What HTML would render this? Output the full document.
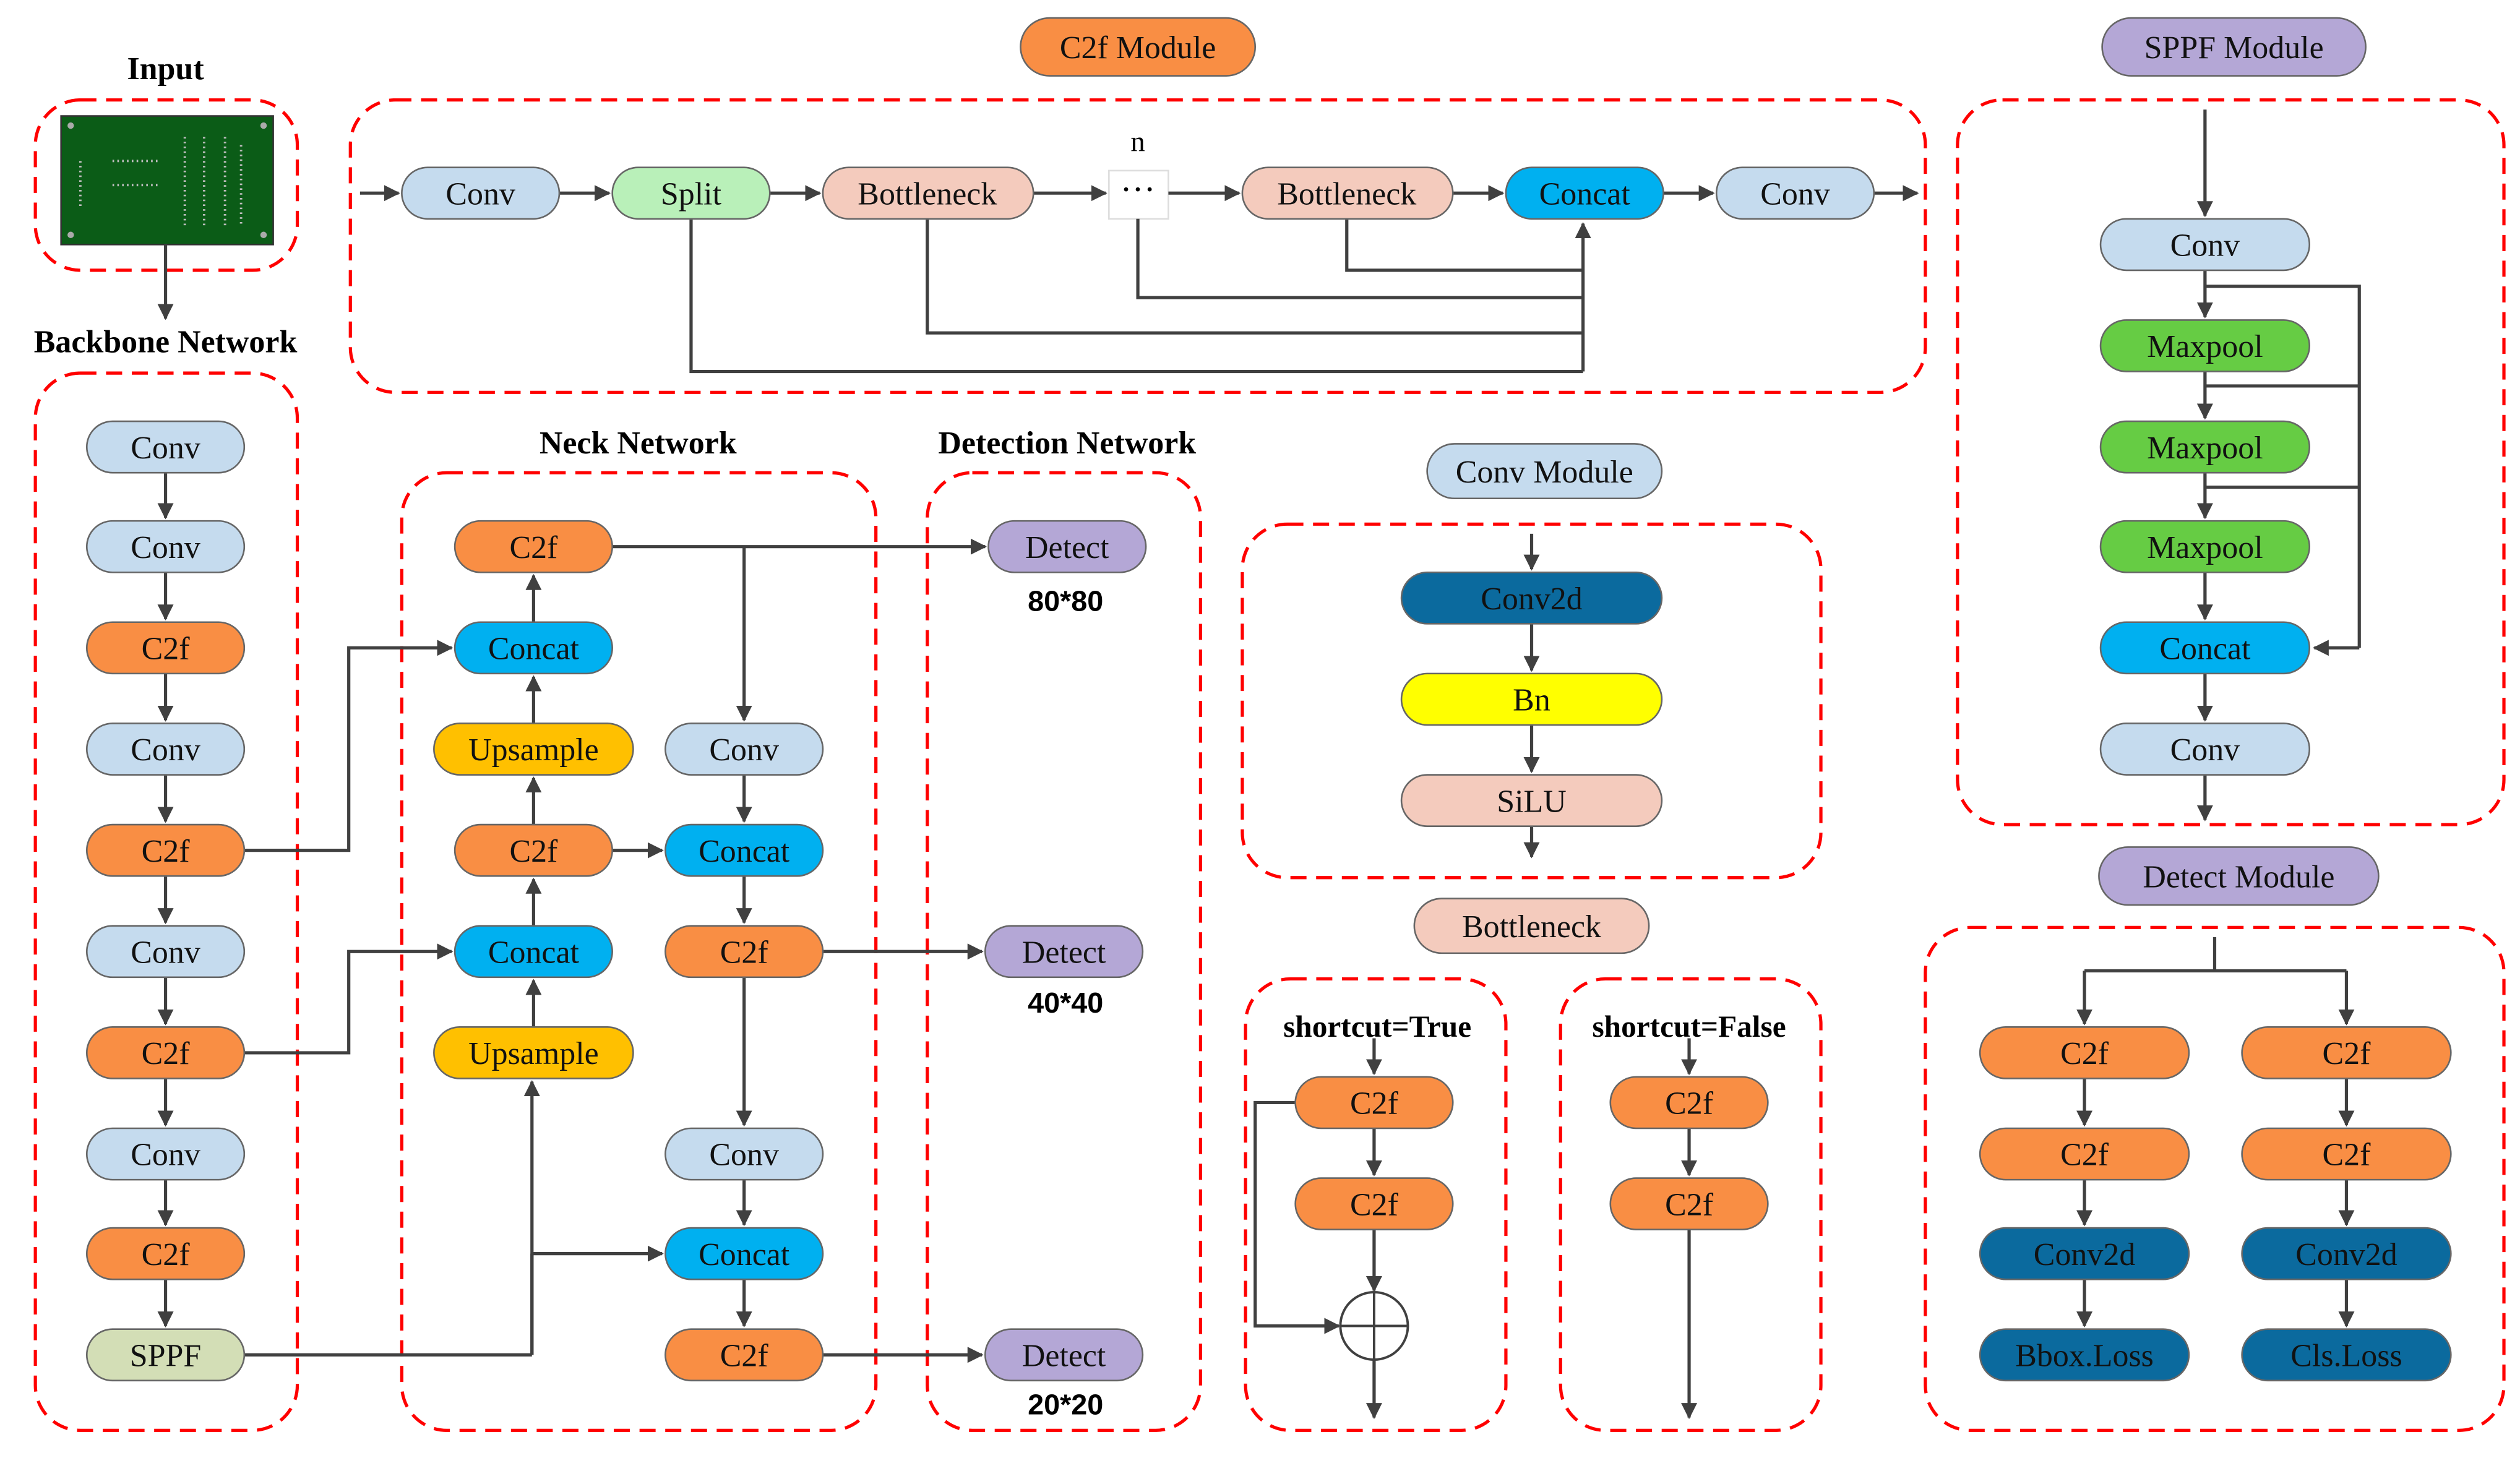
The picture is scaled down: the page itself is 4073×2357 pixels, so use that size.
<!DOCTYPE html>
<html><head><meta charset="utf-8"><style>html,body{margin:0;padding:0;background:#fff}svg{display:block}svg text{font-family:"Liberation Serif","Times New Roman","DejaVu Serif",serif}svg text.s{font-family:"Liberation Sans","DejaVu Sans",sans-serif}</style></head>
<body>
<svg width="4073" height="2357" viewBox="0 0 1568 907" xmlns="http://www.w3.org/2000/svg" font-family="'Liberation Serif', 'DejaVu Serif', serif">
<defs>
<marker id="a" viewBox="0 0 10 10" refX="9" refY="5" markerWidth="5" markerHeight="5" orient="auto"><path d="M0,0L10,5L0,10z" fill="#404040"/></marker>
</defs>
<rect width="1568" height="907" fill="#fff"/>
<g fill="none" stroke="#f00" stroke-width="2" stroke-dasharray="10,6">
<rect x="22" y="62" width="163" height="106" rx="28"/>
<rect x="22" y="232" width="163" height="658" rx="28"/>
<rect x="218" y="62" width="980" height="182" rx="28"/>
<rect x="1218" y="62" width="340" height="451" rx="28"/>
<rect x="250" y="294" width="295" height="596" rx="28"/>
<rect x="577" y="294" width="170" height="596" rx="28"/>
<rect x="773" y="326" width="360" height="220" rx="28"/>
<rect x="775" y="609" width="162" height="281" rx="28"/>
<rect x="971" y="609" width="162" height="281" rx="28"/>
<rect x="1198" y="577" width="360" height="313" rx="28"/>
</g>
<rect x="38" y="72" width="132" height="80" fill="#0b5c17" stroke="#333"/>
<g fill="#aaa"><circle cx="44" cy="78" r="2"/><circle cx="164" cy="78" r="2"/><circle cx="44" cy="146" r="2"/><circle cx="164" cy="146" r="2"/></g>
<g stroke="#bbb" stroke-width="1.5" stroke-dasharray="1,2"><path d="M115,85V140M127,85V140M140,85V140M150,90V140M50,100V130M70,100H100M70,115H100"/></g>
<g font-weight="bold" font-size="20" text-anchor="middle" fill="#000">
<text x="103" y="49">Input</text>
<text x="103" y="219">Backbone Network</text>
<text x="397" y="282">Neck Network</text>
<text x="664" y="282">Detection Network</text>
<text x="857" y="645" font-size="19">shortcut=True</text>
<text x="1051" y="645" font-size="19">shortcut=False</text>
</g>
<g font-weight="bold" font-size="18" text-anchor="middle">
<text class="s" x="663" y="380">80*80</text><text class="s" x="663" y="630">40*40</text><text class="s" x="663" y="880">20*20</text>
</g>
<text x="708" y="94" font-size="18" text-anchor="middle">n</text>
<text x="708" y="125" font-size="22" text-anchor="middle">···</text>
<rect x="690" y="106" width="37" height="30" fill="none" stroke="#ddd" stroke-width="1"/>
<g stroke="#404040" stroke-width="2" fill="none">
<path d="M838,136V168H985M708,136V185H985M577,136V207H985M430,136V231H985"/>
<path d="M1372,178H1468V403M1372,240H1468M1372,303H1468"/>
<path d="M1378,583V604H1297M1378,604H1460"/>
<path d="M152,843H331M331,780V843"/>
</g>
<g stroke="#404040" stroke-width="2" fill="none" marker-end="url(#a)">
<path d="M103,152V198"/>
<path d="M103,294V322"/><path d="M103,356V385"/><path d="M103,419V448"/><path d="M103,482V511"/><path d="M103,545V574"/><path d="M103,608V637"/><path d="M103,671V700"/><path d="M103,734V762"/><path d="M103,796V825"/>
<path d="M152,529H217V403H281"/>
<path d="M152,655H217V592H281"/>
<path d="M331,843V673"/>
<path d="M331,780H412"/>
<path d="M332,639V610"/><path d="M332,576V547"/><path d="M332,513V484"/><path d="M332,450V421"/><path d="M332,387V358"/>
<path d="M381,340H613"/>
<path d="M463,340V448"/>
<path d="M381,529H412"/>
<path d="M463,482V511"/><path d="M463,545V574"/><path d="M463,608V700"/><path d="M463,734V762"/><path d="M463,796V825"/>
<path d="M512,592H611"/><path d="M512,843H611"/>
<path d="M224,120H248"/><path d="M348,120H379"/><path d="M479,120H510"/><path d="M643,120H688"/><path d="M727,120H771"/><path d="M904,120H935"/><path d="M1034,120H1066"/><path d="M1165,120H1193"/>
<path d="M985,231V139"/>
<path d="M1372,68V134"/><path d="M1372,168V197"/><path d="M1372,231V260"/><path d="M1372,294V322"/><path d="M1372,356V385"/><path d="M1372,419V448"/><path d="M1372,482V510"/>
<path d="M1468,403H1440"/>
<path d="M953,332V354"/><path d="M953,388V417"/><path d="M953,451V480"/><path d="M953,514V533"/>
<path d="M855,646V668"/><path d="M855,702V731"/><path d="M855,765V803"/><path d="M855,845V882"/>
<path d="M806,686H781V825H833"/>
<path d="M1051,646V668"/><path d="M1051,702V731"/><path d="M1051,765V882"/>
<path d="M1297,604V637"/><path d="M1460,604V637"/><path d="M1297,671V700"/><path d="M1460,671V700"/><path d="M1297,734V762"/><path d="M1460,734V762"/><path d="M1297,796V825"/><path d="M1460,796V825"/>
</g>
<circle cx="855" cy="825" r="21" fill="#fff" stroke="#404040" stroke-width="1.5"/>
<path d="M834,825H876M855,804V846" stroke="#404040" stroke-width="1.5"/>
<g stroke="#666" stroke-width="1">
<g fill="#c5dbee"><rect x="54" y="262" width="98" height="32" rx="16"/><rect x="54" y="324" width="98" height="32" rx="16"/><rect x="54" y="450" width="98" height="32" rx="16"/><rect x="54" y="576" width="98" height="32" rx="16"/><rect x="54" y="702" width="98" height="32" rx="16"/>
<rect x="414" y="450" width="98" height="32" rx="16"/><rect x="414" y="702" width="98" height="32" rx="16"/>
<rect x="250" y="104" width="98" height="32" rx="16"/><rect x="1068" y="104" width="98" height="32" rx="16"/>
<rect x="1307" y="136" width="130" height="32" rx="16"/><rect x="1307" y="450" width="130" height="32" rx="16"/>
<rect x="888" y="276" width="146" height="34" rx="17"/></g>
<g fill="#f98e44"><rect x="54" y="387" width="98" height="32" rx="16"/><rect x="54" y="513" width="98" height="32" rx="16"/><rect x="54" y="639" width="98" height="32" rx="16"/><rect x="54" y="764" width="98" height="32" rx="16"/>
<rect x="283" y="324" width="98" height="32" rx="16"/><rect x="283" y="513" width="98" height="32" rx="16"/>
<rect x="414" y="576" width="98" height="32" rx="16"/><rect x="414" y="827" width="98" height="32" rx="16"/>
<rect x="806" y="670" width="98" height="32" rx="16"/><rect x="806" y="733" width="98" height="32" rx="16"/>
<rect x="1002" y="670" width="98" height="32" rx="16"/><rect x="1002" y="733" width="98" height="32" rx="16"/>
<rect x="1232" y="639" width="130" height="32" rx="16"/><rect x="1232" y="702" width="130" height="32" rx="16"/>
<rect x="1395" y="639" width="130" height="32" rx="16"/><rect x="1395" y="702" width="130" height="32" rx="16"/>
<rect x="635" y="11" width="146" height="36" rx="18"/></g>
<g fill="#00b0f0"><rect x="283" y="387" width="98" height="32" rx="16"/><rect x="283" y="576" width="98" height="32" rx="16"/><rect x="414" y="513" width="98" height="32" rx="16"/><rect x="414" y="764" width="98" height="32" rx="16"/><rect x="937" y="104" width="98" height="32" rx="16"/><rect x="1307" y="387" width="130" height="32" rx="16"/></g>
<g fill="#ffc000"><rect x="270" y="450" width="124" height="32" rx="16"/><rect x="270" y="639" width="124" height="32" rx="16"/></g>
<g fill="#b4a7d6"><rect x="615" y="324" width="98" height="32" rx="16"/><rect x="613" y="576" width="98" height="32" rx="16"/><rect x="613" y="827" width="98" height="32" rx="16"/><rect x="1308" y="11" width="164" height="36" rx="18"/><rect x="1306" y="527" width="174" height="36" rx="18"/></g>
<g fill="#f4cbbd"><rect x="512" y="104" width="131" height="32" rx="16"/><rect x="773" y="104" width="131" height="32" rx="16"/><rect x="872" y="482" width="162" height="32" rx="16"/><rect x="880" y="559" width="146" height="34" rx="17"/></g>
<rect x="381" y="104" width="98" height="32" rx="16" fill="#b9f0b9"/>
<rect x="54" y="827" width="98" height="32" rx="16" fill="#d3deb6"/>
<g fill="#66cc44"><rect x="1307" y="199" width="130" height="32" rx="16"/><rect x="1307" y="262" width="130" height="32" rx="16"/><rect x="1307" y="324" width="130" height="32" rx="16"/></g>
<rect x="872" y="356" width="162" height="32" rx="16" fill="#0b6a9e"/>
<rect x="872" y="419" width="162" height="32" rx="16" fill="#ffff00"/>
<g fill="#0b6a9e"><rect x="1232" y="764" width="130" height="32" rx="16"/><rect x="1395" y="764" width="130" height="32" rx="16"/><rect x="1232" y="827" width="130" height="32" rx="16"/><rect x="1395" y="827" width="130" height="32" rx="16"/></g>
</g>
<g font-size="20" text-anchor="middle" fill="#111">
<text x="103" y="285">Conv</text><text x="103" y="347">Conv</text><text x="103" y="410">C2f</text><text x="103" y="473">Conv</text><text x="103" y="536">C2f</text><text x="103" y="599">Conv</text><text x="103" y="662">C2f</text><text x="103" y="725">Conv</text><text x="103" y="787">C2f</text><text x="103" y="850">SPPF</text>
<text x="332" y="347">C2f</text><text x="332" y="410">Concat</text><text x="332" y="473">Upsample</text><text x="332" y="536">C2f</text><text x="332" y="599">Concat</text><text x="332" y="662">Upsample</text>
<text x="463" y="473">Conv</text><text x="463" y="536">Concat</text><text x="463" y="599">C2f</text><text x="463" y="725">Conv</text><text x="463" y="787">Concat</text><text x="463" y="850">C2f</text>
<text x="664" y="347">Detect</text><text x="662" y="599">Detect</text><text x="662" y="850">Detect</text>
<text x="708" y="36">C2f Module</text><text x="1390" y="36">SPPF Module</text><text x="961" y="300">Conv Module</text><text x="953" y="583">Bottleneck</text><text x="1393" y="552">Detect Module</text>
<text x="299" y="127">Conv</text><text x="430" y="127">Split</text><text x="577" y="127">Bottleneck</text><text x="838" y="127">Bottleneck</text><text x="986" y="127">Concat</text><text x="1117" y="127">Conv</text>
<text x="1372" y="159">Conv</text><text x="1372" y="222">Maxpool</text><text x="1372" y="285">Maxpool</text><text x="1372" y="347">Maxpool</text><text x="1372" y="410">Concat</text><text x="1372" y="473">Conv</text>
<text x="953" y="379">Conv2d</text><text x="953" y="442">Bn</text><text x="953" y="505">SiLU</text>
<text x="855" y="693">C2f</text><text x="855" y="756">C2f</text><text x="1051" y="693">C2f</text><text x="1051" y="756">C2f</text>
<text x="1297" y="662">C2f</text><text x="1460" y="662">C2f</text><text x="1297" y="725">C2f</text><text x="1460" y="725">C2f</text>
<text x="1297" y="787">Conv2d</text><text x="1460" y="787">Conv2d</text><text x="1297" y="850">Bbox.Loss</text><text x="1460" y="850">Cls.Loss</text>
</g>
</svg>
</body></html>
